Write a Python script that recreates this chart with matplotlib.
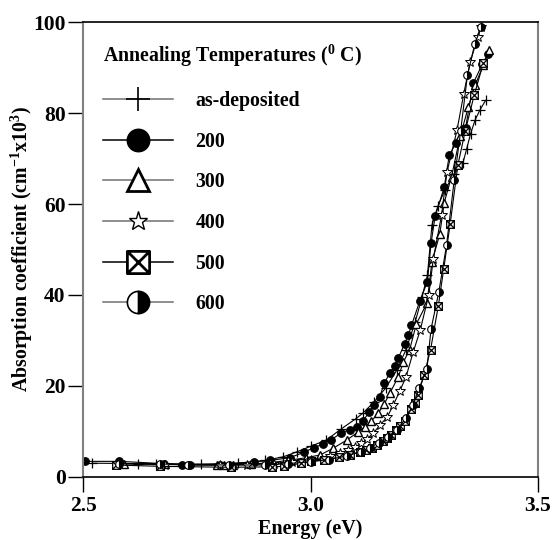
import matplotlib
matplotlib.use('Agg')
import matplotlib.pyplot as plt
import matplotlib.path as mpath
from matplotlib.lines import Line2D

plt.rcParams['font.family'] = ['Liberation Serif', 'DejaVu Serif']
plt.rcParams['font.weight'] = 'bold'
plt.rcParams['mathtext.fontset'] = 'custom'
plt.rcParams['mathtext.rm'] = 'Liberation Serif:bold'
plt.rcParams['mathtext.bf'] = 'Liberation Serif:bold'
plt.rcParams['mathtext.default'] = 'bf'

# photon energy (eV) and absorption coefficient (cm^-1 x10^3) per annealing temperature
e_asdep = [2.52, 2.62, 2.66, 2.76, 2.84, 2.90, 2.94, 2.97, 3.00, 3.035, 3.067, 3.10, 3.115,
           3.14, 3.165, 3.19, 3.21, 3.23, 3.245, 3.257, 3.267, 3.28, 3.295, 3.315, 3.335,
           3.343, 3.352, 3.362, 3.372, 3.385]
a_asdep = [3.0, 2.9, 2.9, 2.8, 3.0, 3.6, 4.4, 5.5, 6.7, 8.1, 10.5, 12.8, 14.0,
           16.5, 19.5, 23.5, 28.0, 34.0, 39.5, 44.3, 55.4, 59.5, 63.0, 66.5, 69.0,
           72.0, 75.5, 78.5, 80.6, 82.8]

e_200 = [2.505, 2.58, 2.677, 2.717, 2.736, 2.80, 2.876, 2.911, 2.954, 2.986, 3.007, 3.028,
         3.046, 3.067, 3.086, 3.102, 3.115, 3.129, 3.14, 3.152, 3.162, 3.175, 3.185, 3.193,
         3.207, 3.215, 3.222, 3.24, 3.257, 3.265, 3.274, 3.294, 3.305, 3.32, 3.336, 3.341,
         3.358, 3.378, 3.39]
a_200 = [3.4, 3.4, 2.9, 2.6, 2.6, 2.7, 3.3, 3.6, 4.2, 5.4, 6.4, 7.2,
         8.2, 9.6, 10.4, 11.0, 12.3, 14.2, 15.8, 17.5, 20.6, 22.9, 24.4, 26.1,
         29.3, 31.2, 33.3, 38.6, 42.9, 51.4, 57.3, 63.7, 70.7, 73.5, 76.5, 76.8,
         86.6, 90.8, 93.0]

e_300 = [2.59, 2.68, 2.794, 2.81, 2.83, 2.87, 2.91, 2.95, 2.99, 3.021, 3.05, 3.08, 3.105,
         3.12, 3.134, 3.149, 3.162, 3.175, 3.193, 3.204, 3.218, 3.233, 3.256, 3.267, 3.284,
         3.294, 3.31, 3.329, 3.347, 3.362, 3.38, 3.393]
a_300 = [2.9, 2.8, 2.6, 2.6, 2.6, 2.8, 3.1, 3.6, 4.2, 4.8, 6.3, 8.1, 9.9,
         11.0, 12.3, 14.0, 16.0, 18.5, 22.0, 25.2, 28.0, 33.7, 38.2, 47.3, 53.3,
         60.3, 66.0, 74.9, 81.3, 86.2, 90.5, 93.8]

e_400 = [2.58, 2.68, 2.80, 2.86, 2.92, 2.96, 3.00, 3.043, 3.065, 3.083, 3.098, 3.112, 3.125,
         3.138, 3.153, 3.169, 3.182, 3.196, 3.21, 3.226, 3.241, 3.26, 3.27, 3.288, 3.30,
         3.322, 3.337, 3.351, 3.368, 3.375]
a_400 = [2.9, 2.7, 2.6, 2.7, 2.9, 3.3, 3.8, 4.5, 5.2, 5.9, 6.6, 7.4, 8.4,
         9.6, 11.4, 13.2, 15.8, 18.8, 22.0, 27.5, 32.2, 40.0, 48.0, 57.5, 67.0,
         76.2, 84.3, 91.2, 96.8, 99.0]

e_500 = [2.572, 2.67, 2.825, 2.915, 2.942, 2.98, 3.0, 3.03, 3.063, 3.087, 3.109, 3.122,
         3.135, 3.147, 3.159, 3.168, 3.176, 3.187, 3.196, 3.208, 3.221, 3.229,
         3.236, 3.25, 3.264, 3.281, 3.293, 3.307, 3.324, 3.34, 3.36, 3.38]
a_500 = [2.6, 2.3, 2.1, 2.2, 2.3, 3.0, 3.4, 3.8, 4.3, 4.9, 5.5, 6.0,
         6.4, 7.1, 7.9, 8.6, 9.3, 10.4, 11.2, 12.3, 14.9, 16.3,
         17.9, 22.5, 28.0, 37.6, 45.8, 55.6, 68.6, 76.0, 84.0, 91.0]

e_600 = [2.58, 2.67, 2.73, 2.82, 2.90, 2.95, 3.00, 3.04, 3.08, 3.11, 3.13, 3.15, 3.17,
         3.19, 3.21, 3.225, 3.239, 3.256, 3.265, 3.282, 3.299, 3.316, 3.33, 3.345, 3.361,
         3.375]
a_600 = [2.9, 2.8, 2.7, 2.6, 2.6, 2.9, 3.3, 3.8, 4.6, 5.5, 6.4, 7.5, 8.8,
         10.4, 12.9, 15.8, 19.5, 23.8, 32.5, 40.6, 50.9, 65.3, 76.0, 88.3, 95.1,
         98.9]

labels = ['as-deposited', '200', '300', '400', '500', '600']

# square with a cross inside
boxx = mpath.Path(
    [(-1, -1), (1, -1), (1, 1), (-1, 1), (-1, -1), (-1, -1), (1, 1), (-1, 1), (1, -1)],
    [1, 2, 2, 2, 79, 1, 2, 1, 2])

styles = [
    dict(marker='+', ms=7, mew=0.9, mfc='none'),
    dict(marker='o', ms=5.5, mew=0.8, mfc='black'),
    dict(marker='^', ms=5.5, mew=1.0, mfc='white'),
    dict(marker='*', ms=7, mew=0.7, mfc='white'),
    dict(marker=boxx, ms=5.5, mew=0.9, mfc='white'),
    dict(marker='o', ms=5.5, mew=0.8, mfc='black', fillstyle='right', markerfacecoloralt='white'),
]
legend_ms = [17, 16, 16, 14, 16, 16]
legend_mew = [1.2, 1.2, 2.0, 1.0, 2.0, 1.2]
legend_lc = ['#707070', 'black', '#707070', '#707070', 'black', '#707070']

series = [(e_asdep, a_asdep), (e_200, a_200), (e_300, a_300),
          (e_400, a_400), (e_500, a_500), (e_600, a_600)]

fig = plt.figure(figsize=(5.54, 5.40), dpi=100)
ax = fig.add_axes([0.150, 0.117, 0.821, 0.842])

for (e, a), st in zip(series, styles):
    ax.plot(e, a, color='black', lw=0.8, mec='black', **st)

ax.set_xlim(2.5, 3.5)
ax.set_ylim(0, 100)
ax.set_xticks([2.5, 3.0, 3.5])
ax.set_yticks([0, 20, 40, 60, 80, 100])
ax.tick_params(direction='out', length=11, width=1.0, labelsize=15.5)
ax.tick_params(axis='y', pad=1.5)
ax.tick_params(axis='x', pad=3)
for lab in ax.get_xticklabels() + ax.get_yticklabels():
    lab.set_fontweight('bold')
for side in ['left', 'right']:
    ax.spines[side].set_color('#808080')
    ax.spines[side].set_linewidth(1.5)
ax.spines['top'].set_linewidth(1.2)
ax.spines['bottom'].set_linewidth(1.2)

ax.set_xlabel('Energy (eV)', fontsize=14.5, fontweight='bold', labelpad=2)
ax.set_ylabel(r'Absorption coefficient (cm$^{-1}$x10$^{3}$)', fontsize=14.3,
              fontweight='bold')
ax.yaxis.label.set_va('center')
ax.yaxis.set_label_coords(-0.134, 0.5)

handles = []
for st, ms, mew, lc in zip(styles, legend_ms, legend_mew, legend_lc):
    h = dict(st)
    h['ms'] = ms
    h['mew'] = mew
    handles.append(Line2D([], [], color=lc, lw=1.1, mec='black', **h))

fig.text(103 / 554, 1 - 56 / 540, r'Annealing Temperatures ($^{0}$ C)', fontsize=14.3,
         fontweight='bold', va='center', ha='left')
ax.legend(handles, labels, loc='upper left', bbox_to_anchor=(103 / 554, 1 - 91 / 540),
          bbox_transform=fig.transFigure, frameon=False, handlelength=3.5,
          handletextpad=1.15, labelspacing=1.04, borderpad=0, borderaxespad=0,
          prop={'weight': 'bold', 'size': 14.3})

fig.savefig('out.png', dpi=100)
